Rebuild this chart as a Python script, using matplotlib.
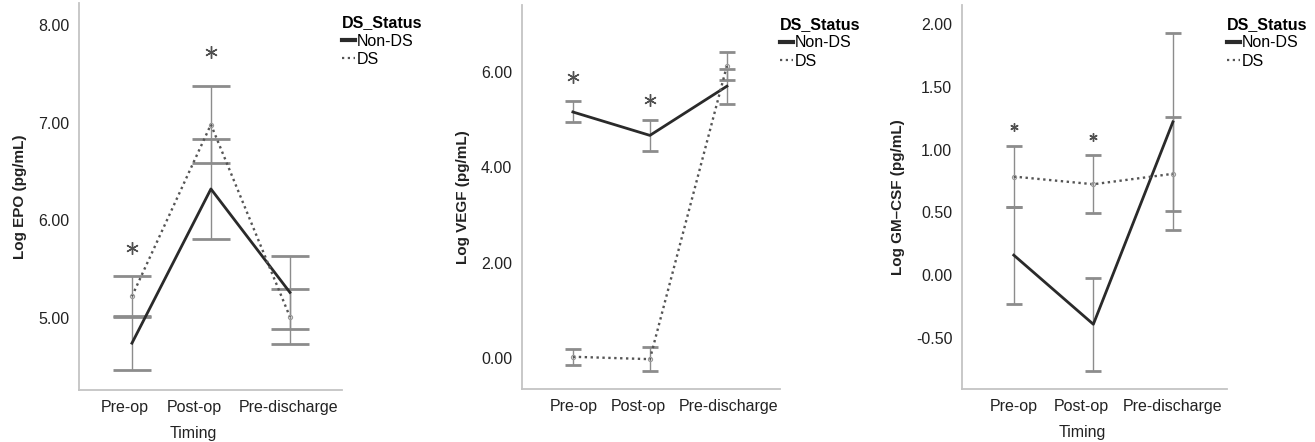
import matplotlib
matplotlib.use("Agg")
import matplotlib.pyplot as plt
from matplotlib.lines import Line2D
from matplotlib.transforms import ScaledTranslation

plt.rcParams['font.family'] = ['Liberation Sans', 'DejaVu Sans']

timing = ['Pre-op', 'Post-op', 'Pre-discharge']
groups = ['Non-DS', 'DS']

# Log EPO (pg/mL)
epo_nonds = [4.74, 6.32, 5.26]
epo_nonds_err = [0.28, 0.51, 0.37]
epo_ds = [5.22, 6.98, 5.01]
epo_ds_err = [0.21, 0.39, 0.28]
epo_star = [5.71, 7.72, None]

# Log VEGF (pg/mL)
vegf_nonds = [5.16, 4.67, 5.70]
vegf_nonds_err = [0.22, 0.33, 0.37]
vegf_ds = [0.035, -0.015, 6.13]
vegf_ds_err = [0.165, 0.245, 0.29]
vegf_star = [5.90, 5.41, None]

# Log GM-CSF (pg/mL)
gm_nonds = [0.16, -0.39, 1.22]
gm_nonds_err = [0.385, 0.37, 0.71]
gm_ds = [0.785, 0.724, 0.807]
gm_ds_err = [0.24, 0.23, 0.45]
gm_star = [1.18, 1.10, None]

panels = [
    dict(rect=[0.0601, 0.1176, 0.2000, 0.8756], nonds=epo_nonds, nonds_err=epo_nonds_err,
         ds=epo_ds, ds_err=epo_ds_err, star=epo_star, ylabel='Log EPO (pg/mL)',
         ylim=(4.26, 8.225), yticks=[5, 6, 7, 8], xlim=(-0.67, 2.66), cap=14, star_ms=9,
         xlabel='Timing', xlab_x=0.433, lab_shift=[-7, -17, -1]),
    dict(rect=[0.3970, 0.1199, 0.1962, 0.8688], nonds=vegf_nonds, nonds_err=vegf_nonds_err,
         ds=vegf_ds, ds_err=vegf_ds_err, star=vegf_star, ylabel='Log VEGF (pg/mL)',
         ylim=(-0.64, 7.40), yticks=[0, 2, 4, 6], xlim=(-0.66, 2.69), cap=6, star_ms=9,
         xlabel=None, xlab_x=0.5, lab_shift=[1, -12, 2]),
    dict(rect=[0.7316, 0.1199, 0.2015, 0.8688], nonds=gm_nonds, nonds_err=gm_nonds_err,
         ds=gm_ds, ds_err=gm_ds_err, star=gm_star, ylabel='Log GM\u2013CSF (pg/mL)',
         ylim=(-0.905, 2.15), yticks=[-0.5, 0, 0.5, 1.0, 1.5, 2.0], xlim=(-0.65, 2.68), cap=6,
         star_ms=6, xlabel='Timing', xlab_x=0.453, lab_shift=[0, -12, 0]),
]

fig = plt.figure(figsize=(13.15, 4.42), dpi=100)
x = list(range(len(timing)))

for p in panels:
    ax = fig.add_axes(p['rect'])
    # error bars
    ax.errorbar(x, p['nonds'], yerr=p['nonds_err'], fmt='none', ecolor='#8c8c8c',
                elinewidth=1, capsize=p['cap'], capthick=2, zorder=2)
    ax.errorbar(x, p['ds'], yerr=p['ds_err'], fmt='none', ecolor='#8c8c8c',
                elinewidth=1, capsize=p['cap'], capthick=2, zorder=2)
    # means
    ax.plot(x, p['nonds'], color='#2a2a2a', lw=2, zorder=3)
    ax.plot(x, p['ds'], color='#555555', lw=1.7, linestyle=(0, (1, 1.5)),
            marker='o', ms=3, mfc='none', mec='#999999', mew=0.8, zorder=3)
    # significance marks
    for xi, s in zip(x, p['star']):
        if s is not None:
            ax.plot(xi, s, marker=(6, 2, 0), ms=p['star_ms'], mew=1.0, color='#505050',
                    linestyle='none', zorder=4)

    ax.set_xlim(*p['xlim'])
    ax.set_ylim(*p['ylim'])
    ax.set_xticks(x)
    ax.set_xticklabels(timing, fontsize=11.5, color='#222222')
    ax.set_yticks(p['yticks'])
    ax.set_yticklabels(['%.2f' % v for v in p['yticks']], fontsize=11.5, color='#222222')
    ax.tick_params(axis='both', length=0)
    ax.tick_params(axis='x', pad=7)
    ax.tick_params(axis='y', pad=7)
    # nudge the category labels the way the original software spaced them
    for tick, dx in zip(ax.xaxis.get_major_ticks(), p['lab_shift']):
        lab = tick.label1
        lab.set_transform(lab.get_transform() + ScaledTranslation(dx / 100, 0, fig.dpi_scale_trans))
    ax.set_ylabel(p['ylabel'], fontsize=11, fontweight='bold', color='#222222', labelpad=8)
    if p['xlabel']:
        ax.set_xlabel(p['xlabel'], fontsize=11.5, color='#222222')
        ax.xaxis.set_label_coords(p['xlab_x'], -0.093)
    for side in ['top', 'right']:
        ax.spines[side].set_visible(False)
    for side in ['left', 'bottom']:
        ax.spines[side].set_color('#c4c4c4')
        ax.spines[side].set_linewidth(1.3)

    handles = [Line2D([0], [0], color='#2a2a2a', lw=3),
               Line2D([0], [0], color='#555555', lw=1.6, linestyle=(0, (1, 1.6)))]
    leg = ax.legend(handles, groups, title='DS_Status', loc='upper left',
                    bbox_to_anchor=(1.0, 0.968), frameon=False, fontsize=11.5,
                    title_fontproperties={'weight': 'bold', 'size': 11.5},
                    handlelength=0.8, handletextpad=0.1, labelspacing=0.2,
                    borderpad=0, borderaxespad=0)
    leg._legend_box.align = 'left'

fig.savefig('out.png', dpi=100)
